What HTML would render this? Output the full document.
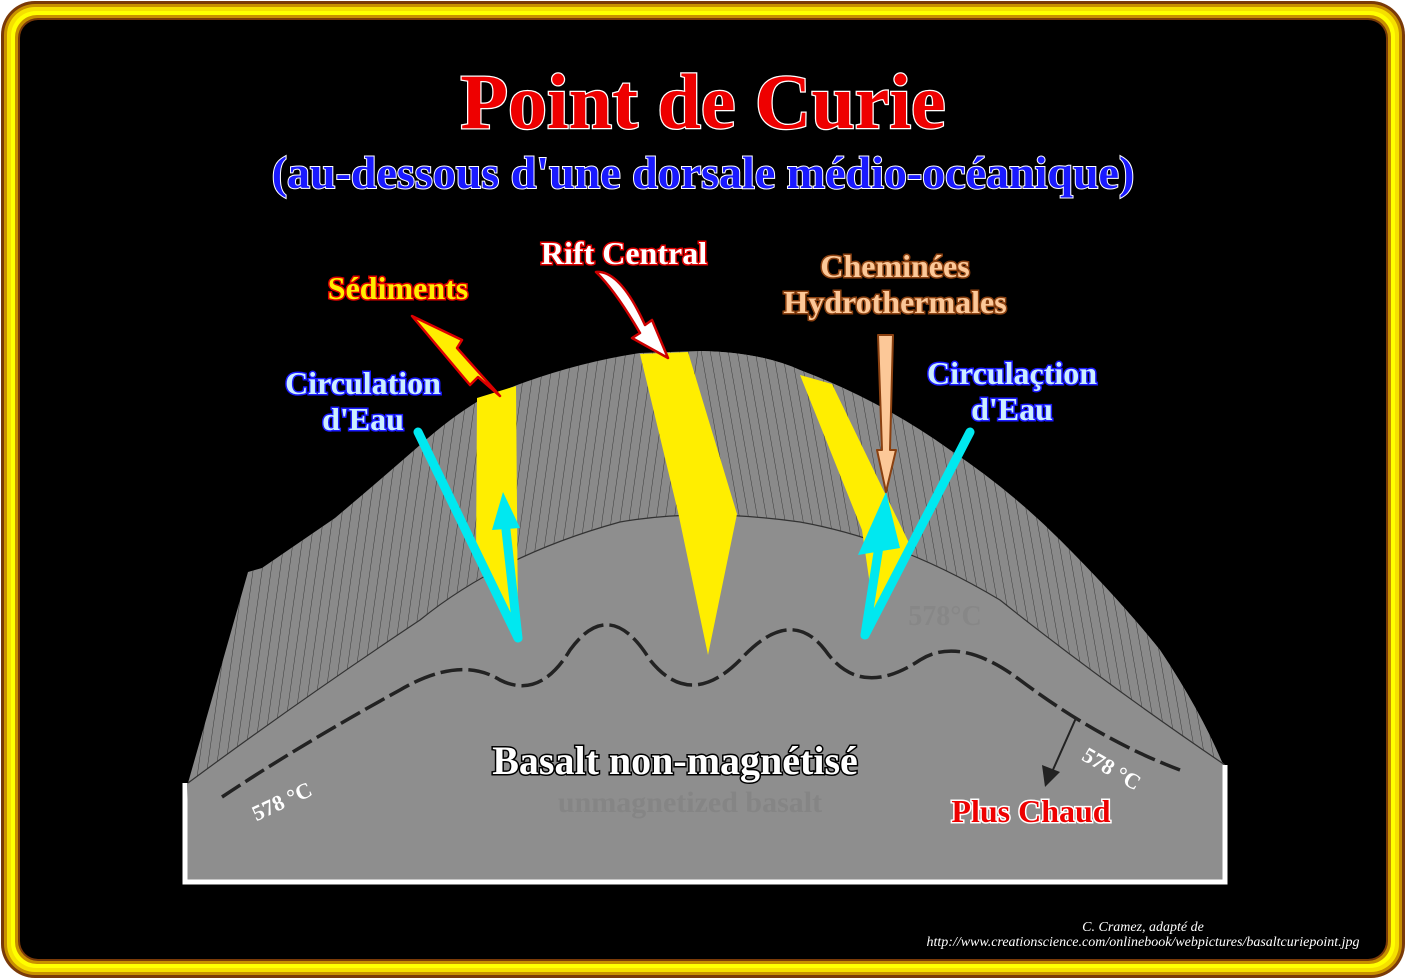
<!DOCTYPE html>
<html><head><meta charset="utf-8"><style>
html,body{margin:0;padding:0;background:#fff;}
svg{display:block;}
text{font-family:"Liberation Serif",serif;font-weight:bold;}
</style></head><body>
<svg width="1406" height="979" viewBox="0 0 1406 979" xmlns="http://www.w3.org/2000/svg">
<defs>
<pattern id="st" width="9" height="10" patternUnits="userSpaceOnUse" patternTransform="skewX(-8)">
<rect width="9" height="10" fill="#8a8a8a"/><line x1="0" y1="0" x2="0" y2="10" stroke="#3a3a3a" stroke-width="1"/>
</pattern>
<pattern id="st2" width="9" height="10" patternUnits="userSpaceOnUse" patternTransform="skewX(10)">
<rect width="9" height="10" fill="#8a8a8a"/><line x1="0" y1="0" x2="0" y2="10" stroke="#3a3a3a" stroke-width="1"/>
</pattern>
</defs>
<rect x="0" y="0" width="1406" height="979" fill="#fff"/>
<rect x="1" y="1" width="1404" height="977" rx="34" fill="#7a3a08"/>
<rect x="4" y="4" width="1398" height="971" rx="31" fill="#c89000"/>
<rect x="7" y="7" width="1392" height="965" rx="28" fill="#f5e000"/>
<rect x="11" y="11" width="1384" height="957" rx="25" fill="#ffff00"/>
<rect x="15" y="15" width="1376" height="949" rx="22" fill="#c89000"/>
<rect x="18" y="18" width="1370" height="943" rx="20" fill="#7a3a08"/>
<rect x="20" y="20" width="1366" height="939" rx="18" fill="#000"/>

<path d="M248,572 L262,568 L335,518 Q380,480 420,445 Q450,418 480,400 Q560,365 640,353 L700,351 Q760,352 800,370 Q880,400 950,450 Q1010,490 1060,540 Q1120,600 1160,650 Q1200,710 1222,762 L1225,765 Q1100,680 1000,600 Q900,540 800,522 Q700,508 620,522 Q500,555 420,620 Q300,700 188,783 Z" fill="url(#st)"/>
<path d="M700,351 Q760,352 800,370 Q880,400 950,450 Q1010,490 1060,540 Q1120,600 1160,650 Q1200,710 1222,762 L1225,765 Q1100,680 1000,600 Q900,540 800,522 L700,512 Z" fill="url(#st2)"/>
<path d="M188,783 Q300,700 420,620 Q500,555 620,522 Q700,508 800,522 Q900,540 1000,600 Q1100,680 1225,765 L1225,882 L185,882 Z" fill="#8e8e8e"/>
<path d="M188,783 Q300,700 420,620 Q500,555 620,522 Q700,508 800,522 Q900,540 1000,600 Q1100,680 1225,765" fill="none" stroke="#333" stroke-width="1.2"/>
<path d="M185,783 L185,882 L1225,882 L1225,765" fill="none" stroke="#fff" stroke-width="5"/>

<polygon points="477,398 516,386 518,626 512,628 476,560" fill="#ffee00"/>
<polygon points="640,354 688,352 737,514 708,655 678,512" fill="#ffee00"/>
<polygon points="800,375 832,384 910,545 875,620 862,530" fill="#ffee00"/>

<path d="M222,797 Q300,745 400,690 Q460,655 500,680 Q540,700 570,650 Q610,595 650,660 Q690,710 740,660 Q790,605 825,650 Q860,700 920,660 Q960,635 1020,680 Q1100,740 1180,770" fill="none" stroke="#222" stroke-width="3.5" stroke-dasharray="22,6"/>

<g stroke="#00e8f0" stroke-width="9" stroke-linecap="round" stroke-linejoin="round" fill="none">
<polyline points="418,432 518,638 506,530"/>
<polyline points="970,432 865,635 880,540"/>
</g>
<polygon points="492,530 520,528 503,492" fill="#00e8f0"/>
<polygon points="858,555 900,548 886,492" fill="#00e8f0"/>

<path d="M412,316 L462,340 L457,348 L500,396 L478,377 L470,385 Z" fill="#ffee00" stroke="#d00" stroke-width="2.5" stroke-linejoin="round"/>
<path d="M596,272 Q620,270 645,325 L652,320 L668,358 L632,338 L640,333 Q615,290 596,272 Z" fill="#fff" stroke="#c00" stroke-width="2.5" stroke-linejoin="round"/>
<path d="M878,335 L893,335 L890,450 L896,450 L886,492 L877,450 L882,450 Z" fill="#fcc898" stroke="#8a4010" stroke-width="2" stroke-linejoin="round"/>
<line x1="1076" y1="718" x2="1052" y2="772" stroke="#222" stroke-width="2"/>
<polygon points="1045,787 1042,765 1060,772" fill="#222"/>

<text x="690" y="812" font-size="30" fill="#858585" text-anchor="middle">unmagnetized basalt</text>
<text x="945" y="625" font-size="28" fill="#878787" text-anchor="middle">578°C</text>

<text x="703" y="128" font-size="78" fill="#ee0000" stroke="#fff" stroke-width="2.5" paint-order="stroke" text-anchor="middle">Point de Curie</text>
<text x="703" y="188" font-size="46" fill="#1a1aff" stroke="#fff" stroke-width="2" paint-order="stroke" text-anchor="middle">(au-dessous d'une dorsale médio-océanique)</text>

<g font-size="32" paint-order="stroke" text-anchor="middle">
<text x="398" y="299" fill="#ffee00" stroke="#d00" stroke-width="3">Sédiments</text>
<text x="624" y="264" fill="#fff" stroke="#d00" stroke-width="3">Rift Central</text>
<text x="895" y="277" fill="#fcc898" stroke="#8a4010" stroke-width="3">Cheminées</text>
<text x="895" y="313" fill="#fcc898" stroke="#8a4010" stroke-width="3">Hydrothermales</text>
<text x="363" y="394" fill="#cceeff" stroke="#1a1aff" stroke-width="3">Circulation</text>
<text x="363" y="430" fill="#cceeff" stroke="#1a1aff" stroke-width="3">d'Eau</text>
<text x="1012" y="384" fill="#cceeff" stroke="#1a1aff" stroke-width="3">Circulaçtion</text>
<text x="1012" y="420" fill="#cceeff" stroke="#1a1aff" stroke-width="3">d'Eau</text>
<text x="675" y="774" font-size="40" fill="#fff" stroke="#000" stroke-width="3">Basalt non-magnétisé</text>
<text x="1031" y="822" fill="#ee0000" stroke="#fff" stroke-width="3">Plus Chaud</text>
</g>
<text x="285" y="808" font-size="22" fill="#fff" transform="rotate(-25 285 808)" text-anchor="middle">578 °C</text>
<text x="1108" y="775" font-size="22" fill="#fff" transform="rotate(30 1108 775)" text-anchor="middle">578 °C</text>

<text x="1143" y="931" font-size="14" fill="#fff" font-style="italic" text-anchor="middle" style="font-weight:normal">C. Cramez, adapté de</text>
<text x="1143" y="946" font-size="14" fill="#fff" font-style="italic" text-anchor="middle" style="font-weight:normal" textLength="433" lengthAdjust="spacingAndGlyphs">http://www.creationscience.com/onlinebook/webpictures/basaltcuriepoint.jpg</text>
</svg>
</body></html>
